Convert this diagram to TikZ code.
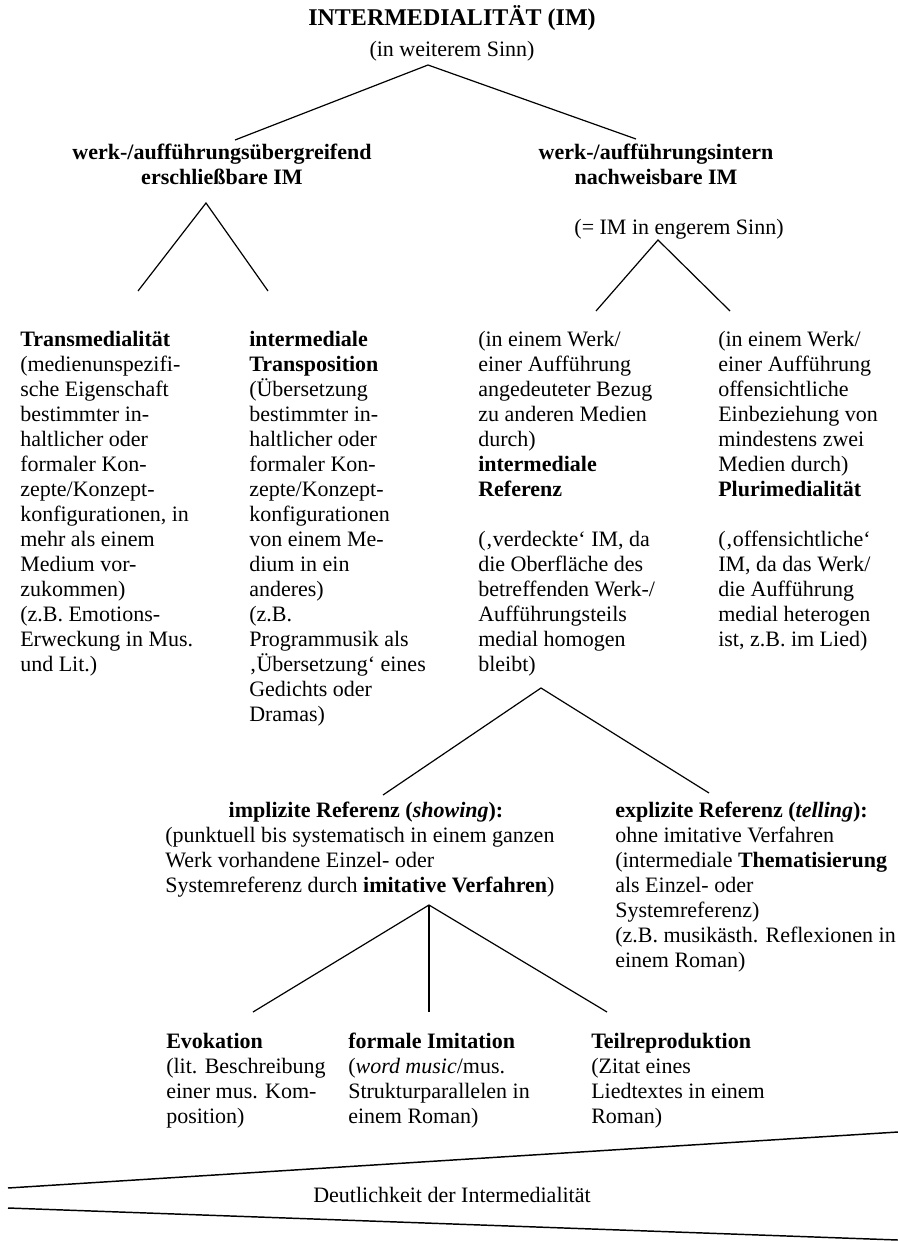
\documentclass[tikz,border=0pt]{standalone}
\usepackage{fontspec}
\setmainfont{Liberation Serif}
% anchor=base sits on the last line of a block
\tikzset{
  body/.style={font=\fontsize{16.5}{18.75}\selectfont, inner sep=0pt, align=left, anchor=base west},
  head/.style={font=\fontsize{16.5}{18.75}\selectfont\bfseries, inner sep=0pt, align=center, anchor=base},
  plain/.style={font=\fontsize{16.5}{18.75}\selectfont, inner sep=0pt, anchor=base},
  branch/.style={line width=0.9pt},
  scale line/.style={line width=1.1pt},
}
\begin{document}
\begin{tikzpicture}[x=0.75pt,y=-0.75pt]
\useasboundingbox (0,0) rectangle (898,1241);

% Top
\node[head, font=\fontsize{18}{21}\selectfont\bfseries] (im) at (452,26) {INTERMEDIALITÄT (IM)};
\node[plain] (weit) at (452,57) {(in weiterem Sinn)};
\node[head] (uebergr) at (222,185) {werk-/aufführungsübergreifend\\erschließbare IM};
\node[head] (intern) at (656,185) {werk-/aufführungsintern\\nachweisbare IM};
\node[plain] (eng) at (679,234) {(= IM in engerem Sinn)};

\coordinate (im-fork) at (428,65);
\coordinate (im-l) at (235,140);
\coordinate (im-r) at (636,139);
\draw[branch] (im-l) -- (im-fork) -- (im-r);

% Columns
\node[body] (trans) at (20,671) {\textbf{Transmedialität}\\(medienunspezifi-\\sche Eigenschaft\\bestimmter in-\\haltlicher oder\\formaler Kon-\\zepte/Konzept-\\konfigurationen, in\\mehr als einem\\Medium vor-\\zukommen)\\(z.B. Emotions-\\Erweckung in Mus.\\und Lit.)};
\node[body] (transpos) at (249,721) {\textbf{intermediale}\\\textbf{Transposition}\\(Übersetzung\\bestimmter in-\\haltlicher oder\\formaler Kon-\\zepte/Konzept-\\konfigurationen\\von einem Me-\\dium in ein\\anderes)\\(z.B.\\Programmusik als\\‚Übersetzung‘ eines\\Gedichts oder\\Dramas)};
\node[body] (ref) at (478,671) {(in einem Werk/\\einer Aufführung\\angedeuteter Bezug\\zu anderen Medien\\durch)\\\textbf{intermediale}\\\textbf{Referenz}\\[18.75pt](‚verdeckte‘ IM, da\\die Oberfläche des\\betreffenden Werk-/\\Aufführungsteils\\medial homogen\\bleibt)};
\node[body] (pluri) at (718,646) {(in einem Werk/\\einer Aufführung\\offensichtliche\\Einbeziehung von\\mindestens zwei\\Medien durch)\\\textbf{Plurimedialität}\\[18.75pt](‚offensichtliche‘\\IM, da das Werk/\\die Aufführung\\medial heterogen\\ist, z.B. im Lied)};

\coordinate (ue-fork) at (206,203);
\coordinate (ue-l) at (138,291);
\coordinate (ue-r) at (268,291);
\draw[branch] (ue-l) -- (ue-fork) -- (ue-r);
\coordinate (in-fork) at (658,240);
\coordinate (in-l) at (596,311);
\coordinate (in-r) at (730,311);
\draw[branch] (in-l) -- (in-fork) -- (in-r);

% Referenz
\node[head] (impl) at (366,817) {implizite Referenz (\textit{showing}):};
\node[body] (impl-txt) at (165,892) {(punktuell bis systematisch in einem ganzen\\Werk vorhandene Einzel- oder\\Systemreferenz durch \textbf{imitative Verfahren})};
\node[body] (expl) at (615,967) {\textbf{explizite Referenz (\textit{telling}):}\\ohne imitative Verfahren\\(intermediale \textbf{Thematisierung}\\als Einzel- oder\\Systemreferenz)\\(z.B. musikästh. Reflexionen in\\einem Roman)};

\coordinate (ref-fork) at (541,688);
\coordinate (ref-l) at (383,795);
\coordinate (ref-r) at (709,793);
\draw[branch] (ref-l) -- (ref-fork) -- (ref-r);

% Verfahren
\node[body] (evok) at (166,1123) {\textbf{Evokation}\\(lit. Beschreibung\\einer mus. Kom-\\position)};
\node[body] (formal) at (348,1123) {\textbf{formale Imitation}\\(\textit{word music}/mus.\\Strukturparallelen in\\einem Roman)};
\node[body] (teil) at (591,1123) {\textbf{Teilreproduktion}\\(Zitat eines\\Liedtextes in einem\\Roman)};

\coordinate (imp-fork) at (429,905);
\coordinate (imp-l) at (253,1012);
\coordinate (imp-m) at (429,1012);
\coordinate (imp-r) at (607,1012);
\draw[branch] (imp-l) -- (imp-fork) -- (imp-r);
\draw[branch] (imp-fork) -- (imp-m);

% Skala
\node[plain] (deutl) at (452,1202) {Deutlichkeit der Intermedialität};
\draw[scale line] (8,1188) -- (898,1132);
\draw[scale line] (8,1208) -- (898,1240);
\end{tikzpicture}
\end{document}
